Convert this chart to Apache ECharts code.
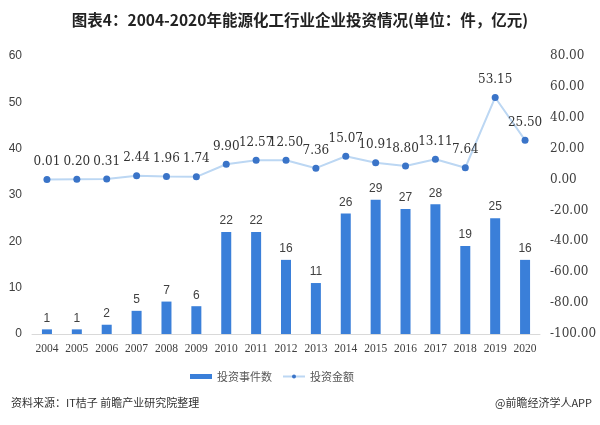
<!DOCTYPE html>
<html><head><meta charset="utf-8">
<script src="https://cdn.jsdelivr.net/npm/echarts@6/dist/echarts.min.js"></script>
<style>html,body{margin:0;padding:0;background:#fff}#c{width:600px;height:425px}</style>
</head><body><div id="c"></div>
<script>
const years = ['2004','2005','2006','2007','2008','2009','2010','2011','2012','2013','2014','2015','2016','2017','2018','2019','2020'];
const eventCounts = [1,1,2,5,7,6,22,22,16,11,26,29,27,28,19,25,16];
const amounts = [0.01,0.20,0.31,2.44,1.96,1.74,9.90,12.57,12.50,7.36,15.07,10.91,8.80,13.11,7.64,53.15,25.50];
const chart = echarts.init(document.getElementById('c'));
chart.setOption({
  animation:false,
  title:[{text:'图表4：2004-2020年能源化工行业企业投资情况(单位：件，亿元)',left:'center',top:7,
    textStyle:{fontSize:15.5,fontWeight:'bold',color:'#222',fontFamily:'Noto Sans CJK SC'}},
    {text:'资料来源：IT桔子 前瞻产业研究院整理',left:6,top:392,textStyle:{fontSize:11,fontWeight:'normal',color:'#333',fontFamily:'Noto Sans CJK SC'}},
    {text:'@前瞻经济学人APP',right:3,top:392,textStyle:{fontSize:11,fontWeight:'normal',color:'#333',fontFamily:'Noto Sans CJK SC'}}],
  legend:{top:366,left:185,itemGap:10,itemWidth:22,itemHeight:5,
    textStyle:{fontSize:11,color:'#595959',fontFamily:'Noto Sans CJK SC'},
    data:[{name:'投资事件数',icon:'rect'},{name:'投资金额'}]},
  grid:{left:32,right:60,top:56,bottom:91},
  xAxis:{type:'category',data:years,axisTick:{show:false},
    axisLine:{lineStyle:{color:'#d9d9d9'}},
    axisLabel:{interval:0,color:'#404040',fontSize:11.5,fontFamily:'Liberation Serif',margin:9}},
  yAxis:[{type:'value',min:0,max:60,interval:10,splitLine:{show:false},axisLine:{show:false},axisTick:{show:false},
    axisLabel:{color:'#404040',fontSize:12,fontFamily:'Liberation Sans',margin:10}},
    {type:'value',min:-100,max:80,interval:20,splitLine:{show:false},axisLine:{show:false},axisTick:{show:false},
    axisLabel:{color:'#404040',fontSize:12,fontFamily:'DejaVu Serif',margin:10,formatter:v=>v.toFixed(2)}}],
  series:[{name:'投资事件数',type:'bar',data:eventCounts,barWidth:10,itemStyle:{color:'#3a7fd9'},
    label:{show:true,position:'top',distance:5,color:'#404040',fontSize:12,fontFamily:'Liberation Sans'}},
    {name:'投资金额',type:'line',yAxisIndex:1,data:amounts,symbol:'circle',symbolSize:7,
     lineStyle:{color:'#bcd7f3',width:2},itemStyle:{color:'#3a74c8'},
     label:{show:true,position:'top',distance:8,color:'#333',fontSize:12,fontFamily:'DejaVu Serif',formatter:p=>p.value.toFixed(2)}}]
});
</script></body></html>
